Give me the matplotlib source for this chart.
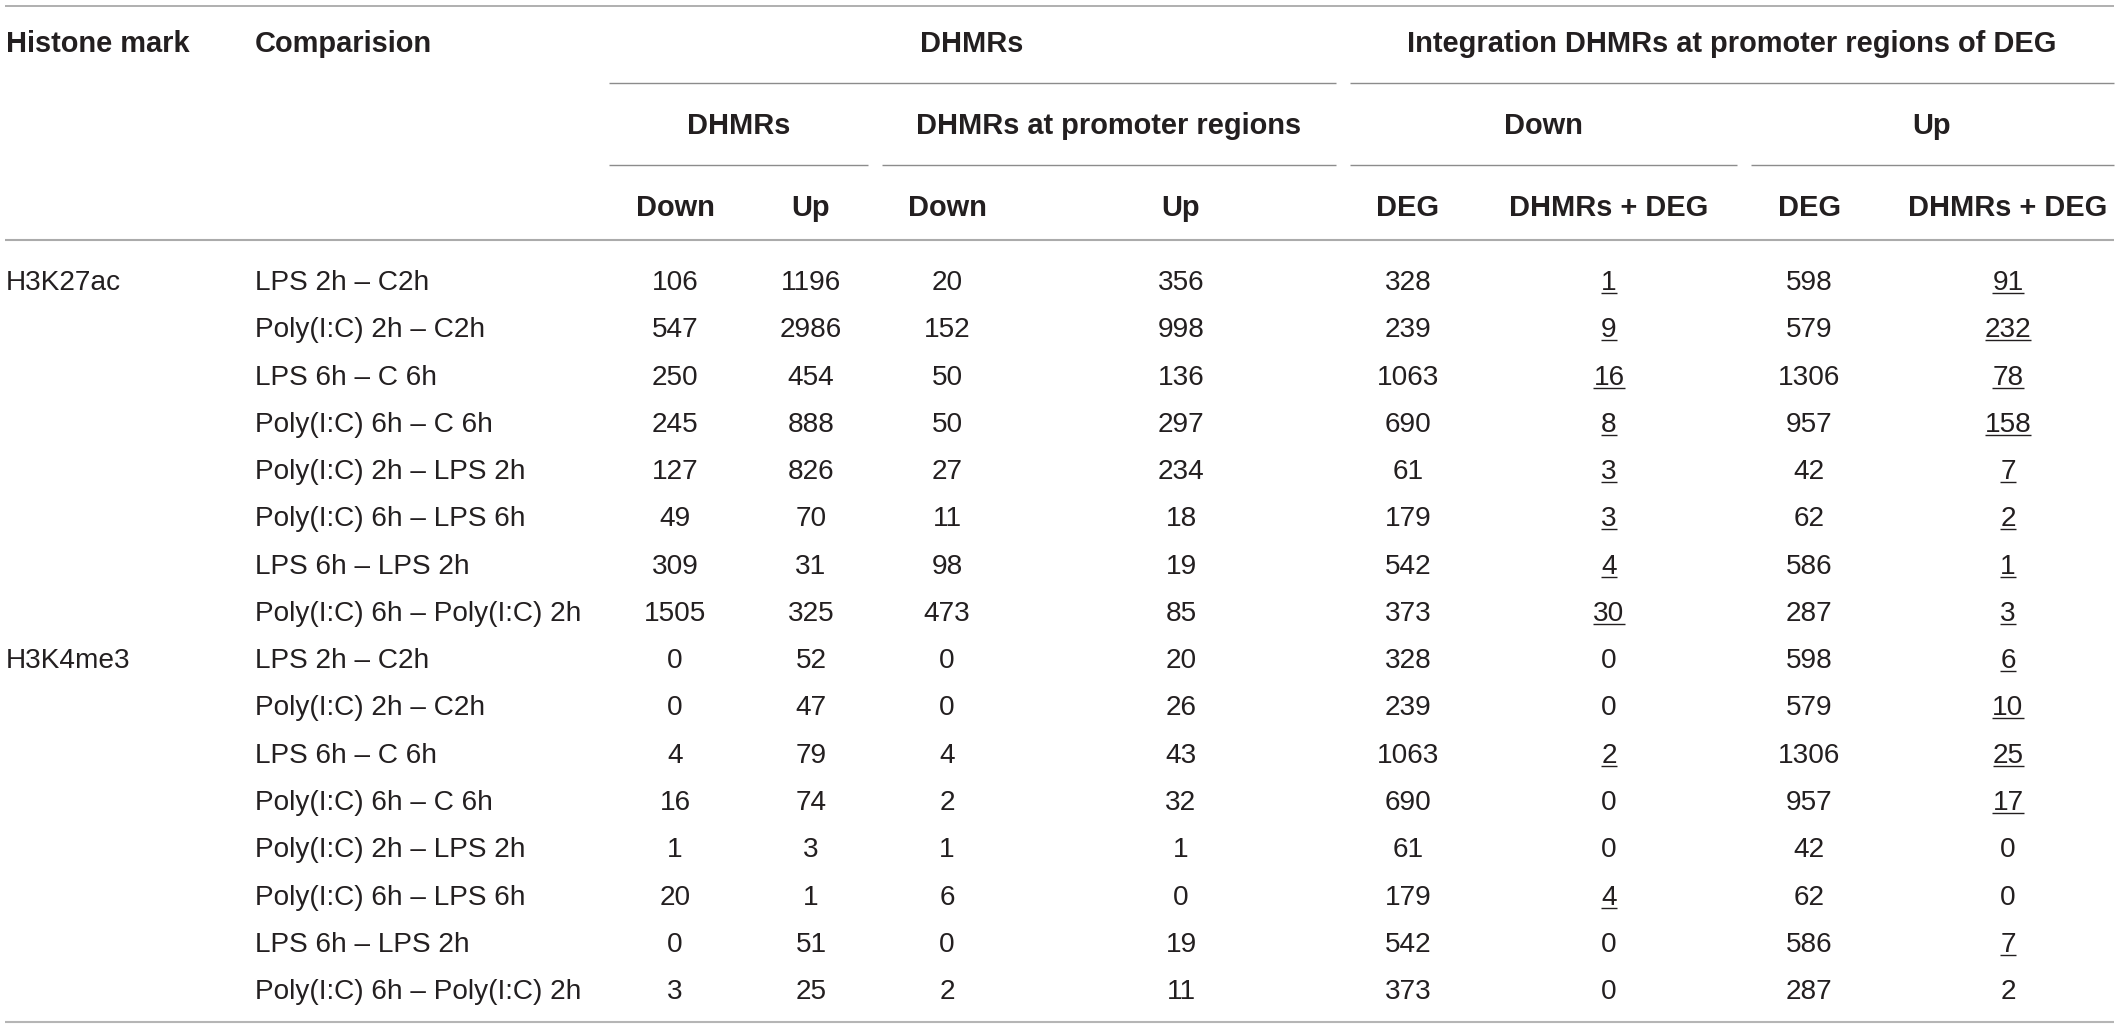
import matplotlib.pyplot as plt

# table content
histone_marks = ["H3K27ac", "H3K4me3"]
comparisons = [
    "LPS 2h – C2h",
    "Poly(I:C) 2h – C2h",
    "LPS 6h – C 6h",
    "Poly(I:C) 6h – C 6h",
    "Poly(I:C) 2h – LPS 2h",
    "Poly(I:C) 6h – LPS 6h",
    "LPS 6h – LPS 2h",
    "Poly(I:C) 6h – Poly(I:C) 2h",
]

dhmr_down = [106, 547, 250, 245, 127, 49, 309, 1505, 0, 0, 4, 16, 1, 20, 0, 3]
dhmr_up = [1196, 2986, 454, 888, 826, 70, 31, 325, 52, 47, 79, 74, 3, 1, 51, 25]
prom_down = [20, 152, 50, 50, 27, 11, 98, 473, 0, 0, 4, 2, 1, 6, 0, 2]
prom_up = [356, 998, 136, 297, 234, 18, 19, 85, 20, 26, 43, 32, 1, 0, 19, 11]
deg_down = [328, 239, 1063, 690, 61, 179, 542, 373, 328, 239, 1063, 690, 61, 179, 542, 373]
int_down = [1, 9, 16, 8, 3, 3, 4, 30, 0, 0, 2, 0, 0, 4, 0, 0]
deg_up = [598, 579, 1306, 957, 42, 62, 586, 287, 598, 579, 1306, 957, 42, 62, 586, 287]
int_up = [91, 232, 78, 158, 7, 2, 1, 3, 6, 10, 25, 17, 0, 0, 7, 2]

# which DHMRs + DEG numbers are underlined in the source table
int_down_ul = [1, 1, 1, 1, 1, 1, 1, 1, 0, 0, 1, 0, 0, 1, 0, 0]
int_up_ul = [1, 1, 1, 1, 1, 1, 1, 1, 1, 1, 1, 1, 0, 0, 1, 0]

W, H = 2117, 1027
fig = plt.figure(figsize=(W / 100, H / 100), dpi=100)
ax = fig.add_axes([0, 0, 1, 1])
ax.set_xlim(0, W)
ax.set_ylim(H, 0)
ax.axis("off")

FONT = "Liberation Sans"
TXT = "#231f20"
body_fs = 28 * 72 / 100
head_fs = 29 * 72 / 100


def head(x, y, s, ha="center"):
    ax.text(x, y, s, ha=ha, va="baseline", fontsize=head_fs,
            fontweight="bold", family=FONT, color=TXT)


def body(x, y, s, ha="center"):
    return ax.text(x, y, s, ha=ha, va="baseline", fontsize=body_fs,
                   family=FONT, color=TXT)


def hline(x0, x1, y, color="#8c8c8c", lw=1.0):
    ax.plot([x0, x1], [y, y], color=color, lw=lw, solid_capstyle="butt")


# rules
hline(5, W - 3, 5.5, color="#9a9a9a", lw=1.1)
hline(609, 1336, 83, lw=1.0)
hline(1350, 2114, 83, lw=1.0)
for x0, x1 in [(609, 868), (882, 1336), (1350, 1737), (1751, 2114)]:
    hline(x0, x1, 164.5, lw=1.0)
hline(5, W - 3, 240, color="#ababab", lw=1.5)
hline(5, W - 3, 1021.5, color="#b5b5b5", lw=1.5)

# header
head(6, 52.5, "Histone mark", ha="left")
head(255, 52.5, "Comparision", ha="left")
head(972, 52.5, "DHMRs")
head(1732, 52.5, "Integration DHMRs at promoter regions of DEG")

head(739, 134.5, "DHMRs")
head(1109, 134.5, "DHMRs at promoter regions")
head(1543, 134.5, "Down")
head(1932, 134.5, "Up")

col_x = [675, 811, 947, 1181, 1408, 1609, 1809, 2008]
sub_heads = ["Down", "Up", "Down", "Up", "DEG", "DHMRs + DEG", "DEG", "DHMRs + DEG"]
for x, s in zip(col_x, sub_heads):
    head(x, 216.5, s)

# body
base0, step = 290, 47.27
columns = [dhmr_down, dhmr_up, prom_down, prom_up, deg_down, int_down, deg_up, int_up]
under = {5: int_down_ul, 7: int_up_ul}
n_comp = len(comparisons)
to_underline = []
for i in range(len(dhmr_down)):
    y = base0 + i * step
    if i % n_comp == 0:
        body(6, y, histone_marks[i // n_comp], ha="left")
    body(255, y, comparisons[i % n_comp], ha="left")
    for c, (x, vals) in enumerate(zip(col_x, columns)):
        t = body(x, y, str(vals[i]))
        if c in under and under[c][i]:
            to_underline.append((t, y))

fig.canvas.draw()
renderer = fig.canvas.get_renderer()
inv = ax.transData.inverted()
for t, y in to_underline:
    bb = t.get_window_extent(renderer)
    (x0, _), (x1, _) = inv.transform([[bb.x0, bb.y0], [bb.x1, bb.y1]])
    ax.plot([x0, x1], [y + 3, y + 3], color=TXT, lw=1.0, solid_capstyle="butt")

fig.savefig("out.png", dpi=100)
